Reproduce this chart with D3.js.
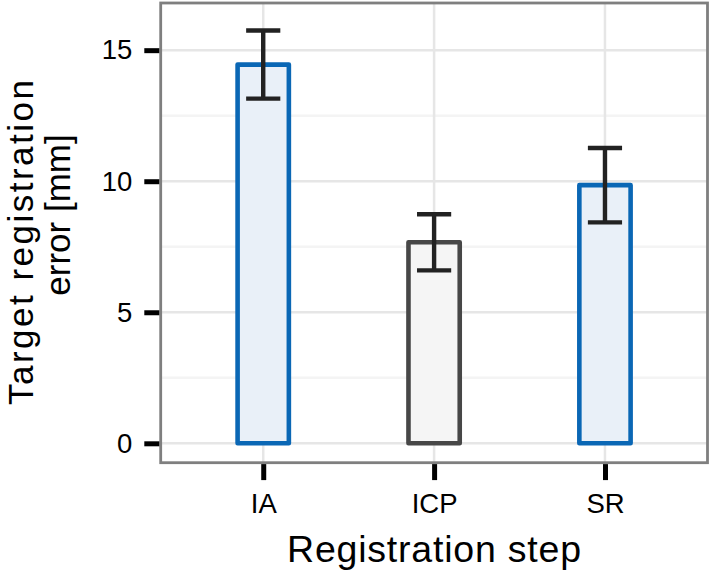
<!DOCTYPE html>
<html>
<head>
<meta charset="utf-8">
<script src="https://cdn.jsdelivr.net/npm/d3@7"></script>
<style>
  html, body { margin: 0; padding: 0; background: #fff; }
  svg { display: block; font-family: "Liberation Sans", Arial, Helvetica, sans-serif; }
</style>
</head>
<body>
<svg id="chart" width="711" height="574"></svg>
<script>
// ---- data ----
const categories = ["IA", "ICP", "SR"];
const meanValues = [14.45, 7.67, 9.85];
const errValues  = [1.3, 1.07, 1.42];
const groupOf    = ["highlight", "base", "highlight"];
const yTickValues = [0, 5, 10, 15];
const yMinorValues = [2.5, 7.5, 12.5];
const xTitle = "Registration step";
const yTitleLines = ["Target registration", "error [mm]"];

// ---- styles ----
const strokeCol = { highlight: "#0a67b5", base: "#474747" };
const fillCol   = { highlight: "#e9f0f8", base: "#f5f5f5" };

const svg = d3.select("#chart");
const P = { left: 160.7, right: 707.5, top: 3, bottom: 462.7 };

const x = d3.scalePoint().domain(categories).range([P.left, P.right]).padding(0.6);
const y = d3.scaleLinear().domain([-0.74, 16.8]).range([P.bottom, P.top]);
const step = x.step();

// panel background
svg.append("rect").attr("x", P.left).attr("y", P.top)
  .attr("width", P.right - P.left).attr("height", P.bottom - P.top).attr("fill", "#fff");

// grid
const grid = svg.append("g");
grid.selectAll(".minor").data(yMinorValues).join("line")
  .attr("x1", P.left).attr("x2", P.right)
  .attr("y1", d => y(d)).attr("y2", d => y(d))
  .attr("stroke", "#f4f4f4").attr("stroke-width", 2.5);
grid.selectAll(".major").data(yTickValues).join("line")
  .attr("x1", P.left).attr("x2", P.right)
  .attr("y1", d => y(d)).attr("y2", d => y(d))
  .attr("stroke", "#e6e6e6").attr("stroke-width", 2.5);
grid.selectAll(".vmajor").data(categories).join("line")
  .attr("x1", d => x(d)).attr("x2", d => x(d))
  .attr("y1", P.top).attr("y2", P.bottom)
  .attr("stroke", "#e6e6e6").attr("stroke-width", 2.5);

// bars
const barW = step * 0.3;
svg.append("g").selectAll("rect").data(categories).join("rect")
  .attr("x", d => x(d) - barW / 2)
  .attr("y", (d, i) => y(meanValues[i]))
  .attr("width", barW)
  .attr("height", (d, i) => y(0) - y(meanValues[i]))
  .attr("fill", (d, i) => fillCol[groupOf[i]])
  .attr("stroke", (d, i) => strokeCol[groupOf[i]])
  .attr("stroke-width", 4.6)
  .attr("stroke-linejoin", "round");

// error bars
const capW = step * 0.2;
const eb = svg.append("g").attr("stroke", "#222").attr("stroke-width", 4.4).attr("fill", "none");
categories.forEach((c, i) => {
  const cx = x(c), lo = y(meanValues[i] - errValues[i]), hi = y(meanValues[i] + errValues[i]);
  eb.append("line").attr("x1", cx).attr("x2", cx).attr("y1", lo).attr("y2", hi);
  eb.append("line").attr("x1", cx - capW / 2).attr("x2", cx + capW / 2).attr("y1", lo).attr("y2", lo);
  eb.append("line").attr("x1", cx - capW / 2).attr("x2", cx + capW / 2).attr("y1", hi).attr("y2", hi);
});

// panel border
svg.append("rect").attr("x", P.left).attr("y", P.top)
  .attr("width", P.right - P.left).attr("height", P.bottom - P.top)
  .attr("fill", "none").attr("stroke", "#7f7f7f").attr("stroke-width", 2.8);

// y axis
const yAxis = d3.axisLeft(y).tickValues(yTickValues).tickSize(15).tickPadding(12).tickFormat(d3.format("d"));
const gy = svg.append("g").attr("transform", `translate(${P.left - 1.4},0)`).call(yAxis);
gy.select(".domain").remove();
gy.selectAll(".tick line").attr("stroke", "#000").attr("stroke-width", 5);
gy.selectAll(".tick text").attr("font-size", 27.5).attr("fill", "#000")
  .attr("font-family", "Liberation Sans, Arial, sans-serif");

// x axis
const xAxis = d3.axisBottom(x).tickSize(16).tickPadding(13);
const gx = svg.append("g").attr("transform", `translate(0,${P.bottom + 1.4})`).call(xAxis);
gx.select(".domain").remove();
gx.selectAll(".tick line").attr("stroke", "#000").attr("stroke-width", 5);
gx.selectAll(".tick text").attr("font-size", 27.5).attr("fill", "#000")
  .attr("font-family", "Liberation Sans, Arial, sans-serif");

// titles
svg.append("text").text(xTitle)
  .attr("x", 434).attr("y", 562)
  .attr("text-anchor", "middle").attr("font-size", 37.5).attr("fill", "#000")
  .attr("textLength", 294).attr("lengthAdjust", "spacing");

const yTitlePos = [{ cx: 32.5, cy: 242.5, len: 325 }, { cx: 69.5, cy: 215, len: null }];
yTitleLines.forEach((t, i) => {
  const p = yTitlePos[i];
  const el = svg.append("text").text(t)
    .attr("transform", `translate(${p.cx},${p.cy}) rotate(-90)`)
    .attr("text-anchor", "middle").attr("font-size", 35).attr("fill", "#000");
  if (p.len) el.attr("textLength", p.len).attr("lengthAdjust", "spacing");
});
</script>
</body>
</html>
